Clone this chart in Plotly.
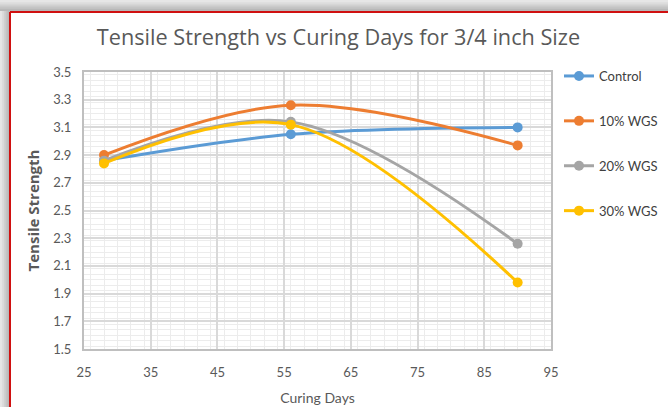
import plotly.graph_objects as go

days = [28, 56, 90]
control = [2.86, 3.05, 3.10]
wgs10 = [2.90, 3.26, 2.97]
wgs20 = [2.86, 3.14, 2.26]
wgs30 = [2.84, 3.12, 1.98]
series_names = ["Control", "10% WGS", "20% WGS", "30% WGS"]
colors = ["#5B9BD5", "#ED7D31", "#A5A5A5", "#FFC000"]

W, H = 668, 407
ML, MR, MT, MB = 84, 117, 72, 58
PW, PH = W - ML - MR, H - MT - MB

def px(x):
    return (x - ML) / PW

def py(y):
    return 1 - (y - MT) / PH

fig = go.Figure()
for i, (name, vals) in enumerate(zip(series_names, [control, wgs10, wgs20, wgs30])):
    fig.add_trace(go.Scatter(
        x=days, y=vals, name=name, mode="lines+markers",
        line=dict(color=colors[i], width=3, shape="spline", smoothing=1.0),
        marker=dict(color=colors[i], size=10),
        legendgroup=name,
    ))

shapes = []
grays = ["#e6e6e6", "#dcdcdc", "#d0d0d0", "#c4c4c4", "#b8b8b8"]
for k, g in enumerate(grays):
    y0 = k * 2.2
    shapes.append(dict(type="rect", xref="paper", yref="paper", layer="below",
                       x0=px(0), x1=px(W), y0=py(11), y1=py(y0), fillcolor=g, line_width=0))
    x0 = k * 1.9
    shapes.append(dict(type="rect", xref="paper", yref="paper", layer="below",
                       x0=px(x0), x1=px(10), y0=py(H), y1=py(11), fillcolor=g, line_width=0))
shapes.append(dict(type="rect", xref="paper", yref="paper", layer="below",
                   x0=px(10), x1=px(W + 5), y0=py(H + 5), y1=py(12),
                   fillcolor="white", line_width=0))
shapes.append(dict(type="line", xref="paper", yref="paper", layer="below",
                   x0=px(10), x1=px(W), y0=py(12), y1=py(12), line=dict(color="#d01010", width=2)))
shapes.append(dict(type="line", xref="paper", yref="paper", layer="below",
                   x0=px(10), x1=px(10), y0=py(12), y1=py(H), line=dict(color="#d01010", width=2)))

font_family = "Lato, 'Open Sans', sans-serif"
fig.update_layout(
    width=W, height=H,
    margin=dict(l=ML, r=MR, t=MT, b=MB, autoexpand=False),
    paper_bgcolor="white", plot_bgcolor="white",
    font=dict(family=font_family, color="#595959", size=13),
    title=dict(text="Tensile Strength vs Curing Days for 3/4 inch Size",
               x=px(338.5), xref="paper", xanchor="center", y=1 - 37 / H, yanchor="middle",
               font=dict(size=21.7, color="#595959", family="'Open Sans', sans-serif")),
    shapes=shapes,
    showlegend=True,
    legend=dict(x=px(559), xanchor="left", y=py(61), yanchor="top",
                bgcolor="rgba(0,0,0,0)", tracegroupgap=25,
                font=dict(size=13, color="#404040")),
    xaxis=dict(range=[25, 95], dtick=10, tick0=25, showgrid=True, gridcolor="#d9d9d9", gridwidth=1.5,
               minor=dict(dtick=2, showgrid=True, gridcolor="#ececec", gridwidth=1),
               showline=True, linecolor="#bfbfbf", linewidth=2, mirror=True,
               zeroline=False, ticks="", ticklabelstandoff=10,
               tickfont=dict(size=13, color="#595959"),
               title=dict(text="Curing Days", standoff=15, font=dict(size=14, color="#595959"))),
    yaxis=dict(range=[1.5, 3.5], dtick=0.2, tick0=1.5, showgrid=True, gridcolor="#d9d9d9", gridwidth=1.5,
               minor=dict(dtick=0.04, showgrid=True, gridcolor="#ececec", gridwidth=1),
               showline=True, linecolor="#bfbfbf", linewidth=2, mirror=True,
               zeroline=False, ticks="", tickformat=".1f", ticklabelstandoff=8,
               tickfont=dict(size=13, color="#595959"),
               title=dict(text="<b>Tensile Strength</b>", standoff=10,
                          font=dict(size=15, color="#595959", family="'Open Sans', sans-serif"))),
)

fig.write_html("out.html", config={"displayModeBar": False},
               post_script="document.body.style.margin='0';")
